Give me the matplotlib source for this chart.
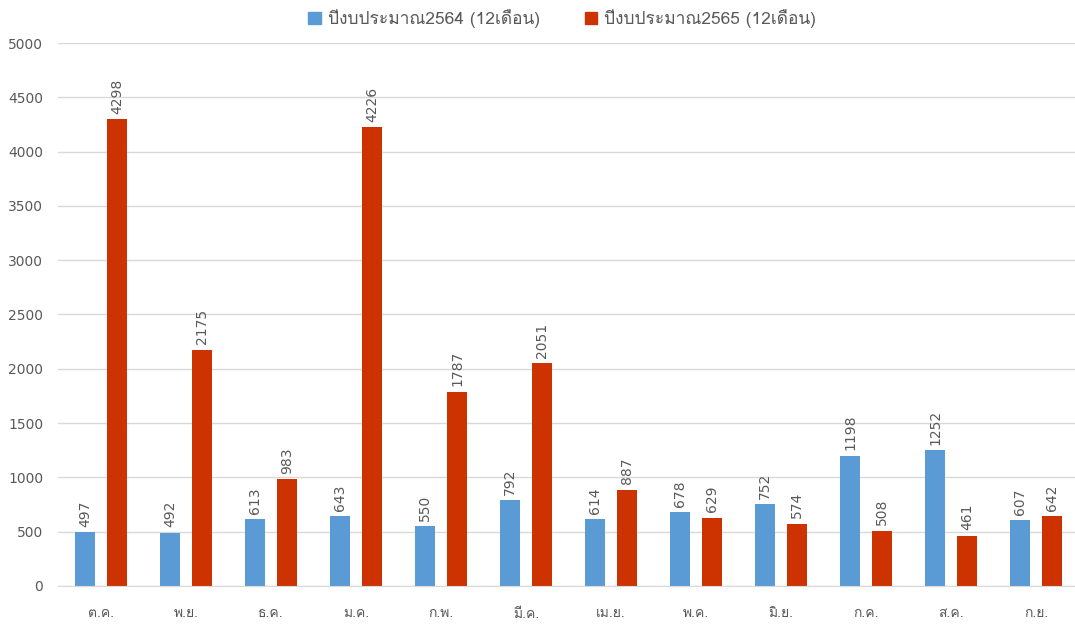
import matplotlib
matplotlib.use('Agg')
import matplotlib.pyplot as plt
from matplotlib import font_manager
from matplotlib.ft2font import FT2Font
from matplotlib.patches import Patch
import numpy as np

months = ['ต.ค.', 'พ.ย.', 'ธ.ค.', 'ม.ค.', 'ก.พ.', 'มี.ค.',
          'เม.ย.', 'พ.ค.', 'มิ.ย.', 'ก.ค.', 'ส.ค.', 'ก.ย.']
budget_2564 = [497, 492, 613, 643, 550, 792, 614, 678, 752, 1198, 1252, 607]
budget_2565 = [4298, 2175, 983, 4226, 1787, 2051, 887, 629, 574, 508, 461, 642]
series_names = ['ปีงบประมาณ2564 (12เดือน)', 'ปีงบประมาณ2565 (12เดือน)']
y_ticks = [0, 500, 1000, 1500, 2000, 2500, 3000, 3500, 4000, 4500, 5000]

# look for a font that can draw thai
thai_fonts = []
for f in font_manager.fontManager.ttflist:
    try:
        if ord('ป') in FT2Font(f.fname).get_charmap():
            if f.name not in thai_fonts:
                thai_fonts.append(f.name)
    except Exception:
        pass
plt.rcParams['font.family'] = thai_fonts + ['DejaVu Sans'] if thai_fonts else ['DejaVu Sans']

blue = '#5b9bd5'
red = '#cc3300'
text_col = '#595959'

fig = plt.figure(figsize=(10.75, 6.29), dpi=100)
ax = fig.add_axes([0.0544, 0.0684, 0.949, 0.8632])

x = np.arange(len(months))
w = 0.235
off = 0.19
b1 = ax.bar(x - off, budget_2564, w, color=blue)
b2 = ax.bar(x + off, budget_2565, w, color=red)

for bars, vals in [(b1, budget_2564), (b2, budget_2565)]:
    for b, v in zip(bars, vals):
        ax.text(b.get_x() + b.get_width() / 2, v + 50, str(v), rotation=90,
                ha='center', va='bottom', fontsize=10, color=text_col,
                family=['DejaVu Sans'])

ax.set_xlim(-0.5, len(months) - 0.5)
ax.set_ylim(0, 5000)
ax.set_yticks(y_ticks)
ax.set_yticklabels([str(t) for t in y_ticks], family=['DejaVu Sans'])
ax.set_xticks(x)
ax.set_xticklabels(months)
ax.tick_params(axis='both', length=0, colors=text_col, labelsize=10)
ax.tick_params(axis='x', pad=16)
ax.tick_params(axis='y', pad=11)
ax.grid(axis='y', color='#d9d9d9', linewidth=1)
ax.set_axisbelow(True)
for s in ['top', 'right', 'left']:
    ax.spines[s].set_visible(False)
ax.spines['bottom'].set_color('#d9d9d9')

handles = [Patch(color=blue), Patch(color=red)]
fig.legend(handles, series_names, loc='upper center', bbox_to_anchor=(0.523, 1.01),
           ncol=2, frameon=False, fontsize=12.5, handlelength=0.7, handleheight=0.7,
           columnspacing=2.6, handletextpad=0.4, labelcolor=text_col)

fig.savefig('out.png', dpi=100)
